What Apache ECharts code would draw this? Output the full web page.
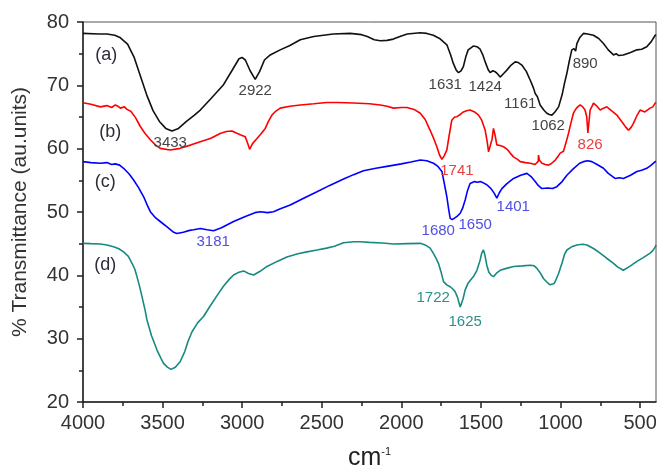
<!DOCTYPE html>
<html>
<head>
<meta charset="utf-8">
<script src="https://cdn.jsdelivr.net/npm/echarts@6/dist/echarts.min.js"></script>
<style>html,body{margin:0;padding:0;background:#fff}#c{width:658px;height:473px}</style>
</head>
<body>
<div id="c"></div>
<script>
// ---- data (wavenumber cm-1, % transmittance) ----
var curveA = [[4000,78.2],[3900,78.1],[3850,78.1],[3800,77.9],[3765,77.5],[3720,76.5],[3680,74.5],[3640,71.5],[3600,68.5],[3560,66],[3520,64.3],[3480,63.2],[3441,62.8],[3400,63.2],[3350,64.3],[3300,65.3],[3263,66.1],[3200,67.8],[3120,70],[3060,72.5],[3020,74.2],[3001,74.4],[2980,74.0],[2950,72.3],[2918,70.95],[2890,72.2],[2860,74.0],[2824,74.8],[2761,75.6],[2700,76.3],[2635,77.2],[2550,77.7],[2428,78.1],[2321,78.2],[2250,78.0],[2214,77.7],[2170,77.2],[2132,77.05],[2090,77.1],[2050,77.3],[2000,77.8],[1963,78.1],[1881,78.3],[1840,78.2],[1799,77.9],[1760,77.4],[1714,76.4],[1690,74.8],[1674,73.5],[1655,72.4],[1641,72.0],[1625,72.3],[1611,72.9],[1595,74.5],[1580,75.6],[1548,76.2],[1525,76.1],[1505,75.7],[1488,74.8],[1473,73.7],[1455,72.5],[1442,72.0],[1425,72.3],[1411,72.15],[1395,71.8],[1379,71.3],[1360,71.8],[1337,72.4],[1310,73.2],[1285,73.7],[1265,73.6],[1243,73.2],[1215,72.2],[1190,70.8],[1170,69.6],[1159,68.7],[1145,68.2],[1128,66.9],[1105,66.1],[1086,65.6],[1070,65.4],[1054,65.3],[1035,65.8],[1012,66.6],[990,68.5],[975,70.3],[960,71.9],[945,73.8],[929,75.6],[915,75.8],[905,75.4],[897,76.6],[880,77.5],[856,78.2],[830,78.1],[793,77.9],[760,77.4],[730,76.6],[700,75.6],[667,74.8],[650,75.0],[635,74.7],[605,74.8],[560,75.2],[520,75.6],[490,75.7],[458,76.1],[430,76.9],[405,77.9],[400,78.0]];

var curveB = [[4000,67.26],[3950,67.0],[3891,66.6],[3850,66.8],[3820,66.5],[3797,66.9],[3780,66.7],[3766,66.4],[3740,66.6],[3724,66.2],[3700,65.9],[3692,65.6],[3670,64.9],[3640,63.5],[3610,62.4],[3577,61.4],[3545,60.6],[3515,60.05],[3452,59.8],[3389,60.05],[3320,60.6],[3263,61.1],[3200,61.6],[3138,62.4],[3100,62.7],[3064,62.8],[3040,62.5],[3012,62.2],[2981,61.9],[2965,60.8],[2953,59.9],[2935,60.8],[2907,61.6],[2880,62.4],[2855,63.2],[2835,64.3],[2813,65.3],[2790,65.9],[2761,66.4],[2700,66.7],[2635,66.9],[2550,67.1],[2469,67.3],[2400,67.3],[2300,67.2],[2200,67.1],[2132,66.9],[2090,66.7],[2049,66.4],[2000,66.5],[1965,66.5],[1920,66.2],[1881,65.6],[1850,64.6],[1819,62.9],[1795,61.5],[1777,60.3],[1760,59.0],[1745,58.3],[1730,58.9],[1714,59.8],[1700,62.0],[1683,64.5],[1665,65.0],[1651,65.05],[1630,65.4],[1610,65.8],[1590,66.0],[1568,66.1],[1540,65.8],[1515,65.3],[1495,64.5],[1473,62.9],[1460,61.0],[1452,59.5],[1440,59.2],[1430,61.5],[1421,63.2],[1410,62.0],[1400,60.6],[1380,60.5],[1358,60.3],[1335,59.9],[1316,59.3],[1295,58.7],[1270,58.3],[1253,57.95],[1220,57.8],[1190,57.7],[1160,57.5],[1148,57.4],[1140,58.0],[1138,59.0],[1133,58.2],[1117,57.7],[1095,57.5],[1075,57.4],[1055,57.7],[1033,58.2],[1015,58.8],[1002,59.3],[981,59.6],[965,61.0],[950,62.4],[935,64.0],[919,65.6],[900,66.4],[877,66.9],[860,66.6],[846,66.1],[835,65.0],[828,62.5],[822,62.8],[818,65.0],[814,66.1],[800,66.8],[793,67.2],[775,66.8],[751,66.1],[730,66.4],[709,66.6],[680,66.0],[646,65.3],[610,64.1],[590,63.4],[573,62.9],[555,63.4],[542,64.0],[520,65.2],[500,66.1],[470,65.8],[437,66.4],[420,66.6],[405,67.2],[400,67.3]];

var curveC = [[4000,57.95],[3950,57.8],[3891,57.7],[3850,57.8],[3820,57.5],[3797,57.6],[3770,57.4],[3745,56.9],[3710,56.0],[3682,55.05],[3650,53.8],[3619,52.4],[3595,51.0],[3577,50.05],[3545,49.1],[3515,48.5],[3470,47.6],[3430,46.8],[3410,46.6],[3370,46.8],[3330,47.1],[3305,47.2],[3263,47.4],[3220,47.2],[3180,47.05],[3130,47.5],[3054,48.5],[2980,49.3],[2920,49.9],[2886,50.05],[2840,49.9],[2803,50.05],[2760,50.5],[2698,51.1],[2620,52.1],[2530,53.2],[2450,54.2],[2363,55.2],[2300,55.9],[2238,56.5],[2160,56.9],[2091,57.2],[2000,57.6],[1940,57.9],[1881,58.2],[1840,58.1],[1798,57.7],[1770,57.2],[1745,56.4],[1730,54.5],[1714,52.4],[1703,50.5],[1693,49.0],[1680,48.8],[1672,49.0],[1650,49.3],[1630,49.8],[1615,50.6],[1599,51.9],[1585,53.3],[1568,54.5],[1540,54.8],[1520,54.7],[1505,54.8],[1485,54.6],[1463,54.3],[1445,53.9],[1431,53.5],[1415,52.9],[1400,52.2],[1385,53.0],[1368,53.7],[1340,54.4],[1295,55.3],[1250,55.8],[1211,56.1],[1185,55.6],[1159,54.8],[1140,54.2],[1117,53.7],[1080,53.8],[1050,53.7],[1023,54.0],[990,54.8],[960,55.8],[920,56.8],[880,57.7],[856,57.95],[830,58.1],[803,57.95],[770,57.5],[730,56.9],[700,56.1],[657,55.3],[630,55.4],[605,55.3],[560,55.8],[520,56.4],[490,56.6],[458,56.9],[430,57.4],[405,57.95],[400,58.0]];

var curveD = [[4000,45.05],[3950,45.0],[3891,44.95],[3850,44.8],[3808,44.5],[3775,44.2],[3745,43.7],[3715,43.0],[3692,41.9],[3675,41.0],[3661,39.8],[3645,38.3],[3629,36.6],[3610,34.5],[3598,32.95],[3570,30.5],[3535,28.2],[3510,26.9],[3494,26.1],[3470,25.5],[3447,25.15],[3420,25.5],[3389,26.4],[3360,28.0],[3340,29.6],[3315,31.1],[3280,32.5],[3243,33.5],[3200,35.2],[3158,36.8],[3120,38.2],[3080,39.4],[3054,40.05],[3020,40.5],[2991,40.7],[2960,40.3],[2928,40.05],[2890,40.6],[2844,41.4],[2780,42.2],[2719,42.9],[2650,43.4],[2593,43.7],[2530,44.0],[2469,44.3],[2420,44.6],[2363,45.15],[2300,45.3],[2258,45.3],[2200,45.2],[2120,45.1],[2049,44.95],[1960,45.0],[1881,45.05],[1850,44.8],[1819,44.3],[1795,43.3],[1780,42.6],[1767,41.9],[1750,40.5],[1735,39.0],[1715,38.5],[1693,38.2],[1675,37.8],[1662,37.4],[1648,36.6],[1638,35.7],[1630,35.0],[1622,35.2],[1612,36.3],[1599,37.7],[1580,38.8],[1547,39.8],[1525,40.8],[1505,42.4],[1495,43.5],[1484,44.0],[1475,43.2],[1463,41.6],[1450,40.5],[1435,40.0],[1421,39.8],[1400,40.4],[1379,40.8],[1340,41.1],[1295,41.4],[1240,41.5],[1190,41.6],[1165,41.5],[1148,41.1],[1130,40.5],[1107,39.5],[1080,38.8],[1065,38.5],[1054,38.2],[1040,38.7],[1025,39.5],[1012,40.3],[990,42.0],[975,43.3],[960,44.0],[930,44.5],[897,44.8],[860,44.9],[834,44.8],[790,44.2],[751,43.5],[710,42.7],[667,41.9],[640,41.3],[605,40.8],[560,41.5],[520,42.2],[480,42.8],[437,43.5],[420,43.9],[405,44.5],[400,44.8]];

var xTicks = [500,1000,1500,2000,2500,3000,3500,4000];
var xMinorTicks = [750,1250,1750,2250,2750,3250,3750];
var curveNames = ['(a)','(b)','(c)','(d)'];

// peak annotations: [text, wavenumber, transmittance]
var peaksA = [['3433',3452,60.9],['2922',2918,69.15],['1631',1724,70.05],['1424',1473,69.8],['1161',1253,67.05],['1062',1077,63.6],['890',845,73.4]];
var peaksB = [['1741',1651,56.5],['826',814,60.6]];
var peaksC = [['3181',3182,45.3],['1680',1768,47.05],['1650',1536,47.95],['1401',1297,50.8]];
var peaksD = [['1722',1800,36.4],['1625',1599,32.7]];
var curveLabelPos = [[3854,74.8],[3829,62.7],[3860,54.8],[3860,41.6]];

var colors = ['#111111','#ff0000','#0000ff','#178a80'];
var labelColors = ['#444444','#e84040','#5050e0','#2b908a'];

var chart = echarts.init(document.getElementById('c'));
var font = '"Liberation Sans", Arial, sans-serif';

function mk(peaks, i) {
  var d = peaks.map(function (p) {
    return { coord: [p[1], p[2]], value: p[0], label: { fontSize: 15, color: labelColors[i] } };
  });
  d.push({ coord: curveLabelPos[i], value: curveNames[i], label: { fontSize: 18, color: '#2d2d3a' } });
  return {
    symbol: 'rect', symbolSize: 0, silent: true,
    itemStyle: { color: 'transparent' },
    label: { show: true, position: 'inside', formatter: '{c}', fontFamily: font },
    data: d
  };
}

var allPeaks = [peaksA, peaksB, peaksC, peaksD];
var curves = [curveA, curveB, curveC, curveD];
var plain = function (v) { return String(v); };

chart.setOption({
  animation: false,
  backgroundColor: '#fff',
  grid: { left: 83, right: 2, top: 22, bottom: 71, show: true, borderColor: '#555', borderWidth: 1, outerBoundsMode: 'none' },
  xAxis: [{
    type: 'value', inverse: true, min: 400, max: 4000,
    name: '{a|cm}{b|-1}', nameLocation: 'middle', nameGap: 44,
    nameTextStyle: { rich: { a: { fontSize: 25, color: '#222', fontFamily: font }, b: { fontSize: 11, color: '#222', fontFamily: font, verticalAlign: 'top', padding: [0, 0, 14, 0] } } },
    axisLine: { show: true, lineStyle: { color: '#222', width: 1.5 } },
    axisTick: { show: true, length: 6, customValues: xTicks, lineStyle: { color: '#222', width: 1.5 } },
    axisLabel: { customValues: xTicks, formatter: plain, fontSize: 20, color: '#333', fontFamily: font, margin: 11 },
    splitLine: { show: false }
  }, {
    type: 'value', inverse: true, min: 400, max: 4000, position: 'bottom',
    axisLine: { show: true, lineStyle: { color: '#222', width: 1.5, opacity: 0 } },
    axisTick: { show: true, length: 4, customValues: xMinorTicks, lineStyle: { color: '#222', width: 1.5 } },
    axisLabel: { show: true, customValues: xMinorTicks, formatter: function () { return ''; } },
    splitLine: { show: false }
  }],
  yAxis: {
    type: 'value', min: 20, max: 80, interval: 10,
    name: '% Transmittance (au.units)', nameLocation: 'middle', nameGap: 52,
    nameTextStyle: { fontSize: 21, color: '#333', fontFamily: font },
    axisLine: { show: true, lineStyle: { color: '#222', width: 1.5 } },
    axisTick: { show: true, length: 6, lineStyle: { color: '#222', width: 1.5 } },
    minorTick: { show: true, splitNumber: 2, length: 4, lineStyle: { color: '#222', width: 1.5 } },
    axisLabel: { fontSize: 20, color: '#333', fontFamily: font, margin: 14 },
    splitLine: { show: false }
  },
  series: curves.map(function (c, i) {
    return {
      type: 'line', data: c, showSymbol: false, smooth: false,
      lineStyle: { color: colors[i], width: 1.6 },
      itemStyle: { color: colors[i] },
      markPoint: mk(allPeaks[i], i)
    };
  })
});
</script>
</body>
</html>
